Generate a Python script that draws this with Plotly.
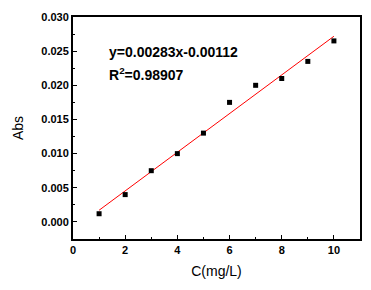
import plotly.graph_objects as go

conc = [1, 2, 3, 4, 5, 6, 7, 8, 9, 10]
absorb = [0.0012, 0.0040, 0.0075, 0.0100, 0.0130, 0.0175, 0.0200, 0.0210, 0.0235, 0.0265]
slope = 0.00283
intercept = -0.00112
fit_x = [1, 10]
fit_y = [slope * v + intercept for v in fit_x]

x_ticks = [0, 2, 4, 6, 8, 10]
y_ticks = [0.000, 0.005, 0.010, 0.015, 0.020, 0.025, 0.030]

fig = go.Figure()
fig.add_trace(go.Scatter(x=fit_x, y=fit_y, mode="lines",
                         line=dict(color="#ff0000", width=1), showlegend=False))
fig.add_trace(go.Scatter(x=conc, y=absorb, mode="markers",
                         marker=dict(symbol="square", size=5, color="black"),
                         showlegend=False))

font_tick = dict(family="Liberation Sans, Arial, sans-serif", size=11, color="black")
axis_common = dict(showline=True, linecolor="black", linewidth=2, mirror=True,
                   showgrid=False, zeroline=False, ticks="inside", ticklen=4,
                   tickwidth=1, tickcolor="black", tickfont=font_tick)

fig.update_layout(
    width=371, height=290,
    margin=dict(l=73, r=9, t=17, b=51),
    paper_bgcolor="white", plot_bgcolor="white",
    font=dict(family="Liberation Sans, Arial, sans-serif", color="black"),
    xaxis=dict(range=[0, 11], tickvals=x_ticks, ticktext=[f"<b>{v}</b>" for v in x_ticks],
               minor=dict(ticks="inside", ticklen=2, tickcolor="black", dtick=1, tick0=0),
               title=dict(text="C(mg/L)", font=dict(size=14), standoff=11),
               **axis_common),
    yaxis=dict(range=[-0.0025, 0.030], tickvals=y_ticks,
               ticktext=[f"<b>{v:.3f}</b>" for v in y_ticks],
               minor=dict(ticks="inside", ticklen=2, tickcolor="black", dtick=0.0025, tick0=0),
               title=dict(text="Abs", font=dict(size=14), standoff=14),
               **axis_common),
)

fig.add_annotation(x=1.3, y=0.0249, xref="x", yref="y", xanchor="left", yanchor="middle",
                   text="<b>y=0.00283x-0.00112</b>", showarrow=False,
                   font=dict(size=14, color="black"))
fig.add_annotation(x=1.3, y=0.0217, xref="x", yref="y", xanchor="left", yanchor="middle",
                   text="<b>R<sup>2</sup>=0.98907</b>", showarrow=False,
                   font=dict(size=14, color="black"))

fig.write_html("out.html")
